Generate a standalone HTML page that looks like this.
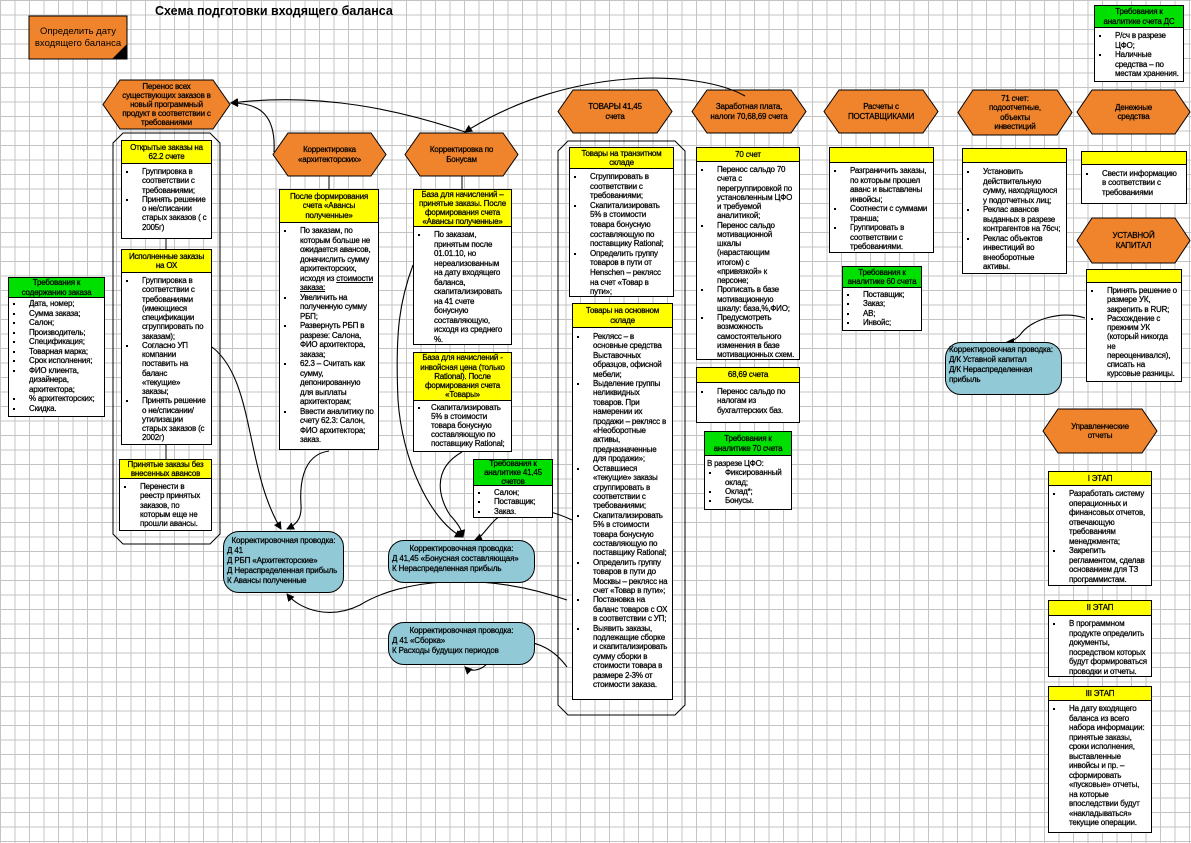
<!DOCTYPE html>
<html><head><meta charset="utf-8">
<style>
*{margin:0;padding:0;box-sizing:border-box}
body{width:1191px;height:843px;position:relative;overflow:hidden;background:#fff;
background-image:linear-gradient(to right,#c4c4c4 1px,transparent 1px),linear-gradient(to bottom,#c4c4c4 1px,transparent 1px);
background-size:14.5px 14.5px;background-position:0 0;
font-family:"Liberation Sans",Arial,sans-serif;color:#000}
.b{position:absolute;border:1px solid #000;background:#fff;font-size:8px;line-height:9.25px;letter-spacing:-0.2px;overflow:hidden;-webkit-text-stroke:0.25px #000}
.h{background:#ffff00;border-bottom:1px solid #000;text-align:center;display:flex;align-items:center;justify-content:center;line-height:9.2px;padding:0 4px}
.g{background:#00e000}
ul{list-style:none;padding:3px 4px 2px 0}
li{position:relative;padding-left:20px}
li:before{content:"";position:absolute;left:4px;top:4px;width:2px;height:2px;background:#000}
.t{position:absolute;display:flex;align-items:center;justify-content:center;text-align:center;font-size:8px;line-height:9.2px;letter-spacing:-0.2px;-webkit-text-stroke:0.25px #000}
.bl{position:absolute;background:#92c9d6;border:1px solid #000;border-radius:16px;font-size:8px;line-height:10px;letter-spacing:-0.15px;padding:4px 3px;-webkit-text-stroke:0.25px #000}
svg{position:absolute;left:0;top:0}
</style></head><body>
<svg width="1191" height="843">
<defs><marker id="a" markerWidth="8" markerHeight="8" refX="7" refY="4" orient="auto" markerUnits="userSpaceOnUse"><path d="M0,0 L8,4 L0,8 z" fill="#000"/></marker></defs>
<g fill="#f0842c" stroke="#000" stroke-width="1">
<polygon points="103,104.5 120,80 213,80 230,104.5 213,129 120,129"/>
<polygon points="273,154.5 288,133 371,133 386,154.5 371,176 288,176"/>
<polygon points="405,154.5 420,133 503,133 518,154.5 503,176 420,176"/>
<polygon points="558,111.5 573,90 657,90 672,111.5 657,133 573,133"/>
<polygon points="692,111.5 707,90 791,90 806,111.5 791,133 707,133"/>
<polygon points="824,111.5 839,90 923,90 938,111.5 923,133 839,133"/>
<polygon points="958,112.5 973,90 1057,90 1072,112.5 1057,135 973,135"/>
<polygon points="1077,112 1092,90 1175,90 1190,112 1175,134 1092,134"/>
<polygon points="1077,240.5 1092,218 1175,218 1190,240.5 1175,263 1092,263"/>
<polygon points="1043,431 1058,409 1142,409 1157,431 1142,453 1058,453"/>
<rect x="29" y="16" width="98" height="43"/>
</g>
<polygon points="112,59 127,44 127,59" fill="#000"/>
<g fill="none" stroke="#000" stroke-width="1">
<polygon points="123,133 210,133 220,143 220,534 210,544 123,544 113,534 113,143"/>
<polygon points="568,141 675,141 685,151 685,705 675,715 568,715 558,705 558,151"/>
<line x1="166" y1="239" x2="166" y2="249"/>
<line x1="166" y1="445" x2="166" y2="459"/>
<line x1="329" y1="176" x2="329" y2="189"/>
<line x1="462" y1="176" x2="462" y2="189"/>
</g>
<g fill="none" stroke="#000" stroke-width="1.1" marker-end="url(#a)">
<path d="M274,152 C276,115 260,103 231,103"/>
<path d="M465,132 C400,110 320,92 231,103"/>
<path d="M745,96 C700,70 570,65 465,132"/>
<path d="M212,347 C255,380 245,470 281,529"/>
<path d="M329,451 C300,455 300,490 301,505 C302,520 295,525 287,529"/>
<path d="M567,600 C480,570 400,580 360,605 C330,620 300,610 287,594"/>
<path d="M413,265 C400,300 395,330 398,400 C402,460 430,520 462,537"/>
<path d="M462,452 C430,470 440,500 450,515 C462,528 462,533 463,537"/>
<path d="M572,520 C540,505 510,505 495,520 C485,530 482,537 475,540"/>
<path d="M567,667 C540,630 500,640 490,660 C482,672 470,672 465,667"/>
<path d="M1085,318 C1060,310 1030,320 1020,335 C1015,340 1010,342 1007,342"/>
</g>
</svg>

<div style="position:absolute;left:155px;top:4px;font-size:12.5px;font-weight:bold">Схема подготовки входящего баланса</div>
<div class="t" style="left:29px;top:16px;width:98px;height:43px;font-size:9.5px;line-height:12px;letter-spacing:0;-webkit-text-stroke:0">Определить дату входящего баланса</div>

<div class="t" style="left:116px;top:80px;width:101px;height:49px;line-height:9px">Перенос всех существующих заказов в новый программный продукт в соответствии с требованиями</div>
<div class="t" style="left:288px;top:133px;width:83px;height:43px">Корректировка «архитекторских»</div>
<div class="t" style="left:420px;top:133px;width:83px;height:43px">Корректировка по Бонусам</div>
<div class="t" style="left:583px;top:90px;width:64px;height:43px">ТОВАРЫ 41,45 счета</div>
<div class="t" style="left:707px;top:90px;width:84px;height:43px">Заработная плата, налоги 70,68,69 счета</div>
<div class="t" style="left:839px;top:90px;width:84px;height:43px">Расчеты с ПОСТАВЩИКАМИ</div>
<div class="t" style="left:983px;top:90px;width:64px;height:45px">71 счет: подоотчетные, объекты инвестиций</div>
<div class="t" style="left:1102px;top:90px;width:63px;height:44px">Денежные средства</div>
<div class="t" style="left:1102px;top:218px;width:63px;height:45px">УСТАВНОЙ КАПИТАЛ</div>
<div class="t" style="left:1068px;top:409px;width:64px;height:44px">Управленческие отчеты</div>

<div class="b" style="left:121px;top:140px;width:91px;height:99px"><div class="h" style="height:23px">Открытые заказы на 62.2 счете</div><ul><li>Группировка в соответствии с требованиями;</li><li>Принять решение о не/списании старых заказов ( с 2005г)</li></ul></div>
<div class="b" style="left:121px;top:249px;width:91px;height:196px"><div class="h" style="height:23px">Исполненные заказы на ОХ</div><ul><li>Группировка в соответствии с требованиями (имеющиеся спецификации сгруппировать по заказам);</li><li>Согласно УП компании поставить на баланс «текущие» заказы;</li><li>Принять решение о не/списании/ утилизации старых заказов (с 2002г)</li></ul></div>
<div class="b" style="left:119px;top:459px;width:93px;height:72px"><div class="h" style="height:19px">Принятые заказы без внесенных авансов</div><ul><li>Перенести в реестр принятых заказов, по которым еще не прошли авансы.</li></ul></div>
<div class="b" style="left:8px;top:277px;width:97px;height:140px"><div class="h g" style="height:20px">Требования к содержанию заказа</div><ul style="padding-top:1px;line-height:9.5px"><li>Дата, номер;</li><li>Сумма заказа;</li><li>Салон;</li><li>Производитель;</li><li>Спецификация;</li><li>Товарная марка;</li><li>Срок исполнения;</li><li>ФИО клиента, дизайнера, архитектора;</li><li>% архитекторских;</li><li>Скидка.</li></ul></div>

<div class="b" style="left:279px;top:189px;width:100px;height:261px"><div class="h" style="height:33px">После формирования счета «Авансы полученные»</div><ul style="line-height:9.5px"><li>По заказам, по которым больше не ожидается авансов, доначислить сумму архитекторских, исходя из <u>стоимости заказа:</u></li><li>Увеличить на полученную сумму РБП;</li><li>Развернуть РБП в разрезе: Салона, ФИО архитектора, заказа;</li><li>62.3 – Считать как сумму, депонированную для выплаты архитекторам;</li><li>Ввести аналитику по счету 62.3: Салон, ФИО архитектора; заказ.</li></ul></div>
<div class="b" style="left:413px;top:189px;width:99px;height:156px"><div class="h" style="height:37px">База для начислений – принятые заказы. После формирования счета «Авансы полученные»</div><ul style="line-height:9.5px"><li>По заказам, принятым после 01.01.10, но нереализованным на дату входящего баланса, скапитализировать на 41 счете бонусную составляющую, исходя из среднего %.</li></ul></div>
<div class="b" style="left:413px;top:352px;width:99px;height:100px"><div class="h" style="height:48px">База для начислений - инвойсная цена (только Rational). После формирования счета «Товары»</div><ul style="line-height:9px;padding:2px 1px 0 0"><li style="padding-left:17px">Скапитализировать 5% в стоимости товара бонусную составляющую по поставщику Rational;</li></ul></div>
<div class="b" style="left:473px;top:459px;width:80px;height:59px"><div class="h g" style="height:26px">Требования к аналитике 41,45 счетов</div><ul style="padding-top:2px"><li>Салон;</li><li>Поставщик;</li><li>Заказ.</li></ul></div>

<div class="bl" style="left:223px;top:531px;width:121px;height:62px"><div style="text-align:center">Корректировочная проводка:</div>Д 41<br>Д РБП «Архитекторские»<br>Д Нераспределенная прибыль<br>К Авансы полученные</div>
<div class="bl" style="left:388px;top:540px;width:147px;height:43px;padding-top:3px"><div style="text-align:center">Корректировочная проводка:</div>Д 41,45 «Бонусная составляющая»<br>К Нераспределенная прибыль</div>
<div class="bl" style="left:388px;top:622px;width:147px;height:43px;padding-top:3px"><div style="text-align:center">Корректировочная проводка:</div>Д 41 «Сборка»<br>К Расходы будущих периодов</div>
<div class="bl" style="left:945px;top:342px;width:117px;height:53px;padding:2px 3px"><div>Корректировочная проводка:</div>Д/К Уставной капитал<br>Д/К Нераспределенная прибыль</div>

<div class="b" style="left:569px;top:147px;width:105px;height:150px"><div class="h" style="height:21px">Товары на транзитном складе</div><ul style="line-height:9.6px"><li>Сгруппировать в соответствии с требованиями;</li><li>Скапитализировать 5% в стоимости товара бонусную составляющую по поставщику Rational;</li><li>Определить группу товаров в пути от Henschen – реклясс на счет «Товар в пути»;</li></ul></div>
<div class="b" style="left:572px;top:303px;width:101px;height:397px"><div class="h" style="height:24px">Товары на основном складе</div><ul style="padding-top:4px;line-height:9.4px"><li>Реклясс – в основные средства Выставочных образцов, офисной мебели;</li><li>Выделение группы неликвидных товаров. При намерении их продажи – реклясс в «Необоротные активы, предназначенные для продажи»;</li><li>Оставшиеся «текущие» заказы сгруппировать в соответствии с требованиями;</li><li>Скапитализировать 5% в стоимости товара бонусную составляющую по поставщику Rational;</li><li>Определить группу товаров в пути до Москвы – реклясс на счет «Товар в пути»;</li><li>Постановка на баланс товаров с ОХ в соответствии с УП;</li><li>Выявить заказы, подлежащие сборке и скапитализировать сумму сборки в стоимости товара в размере 2-3% от стоимости заказа.</li></ul></div>

<div class="b" style="left:696px;top:147px;width:104px;height:213px"><div class="h" style="height:14px">70 счет</div><ul><li>Перенос сальдо 70 счета с перегруппировкой по установленным ЦФО и требуемой аналитикой;</li><li>Перенос сальдо мотивационной шкалы (нарастающим итогом) с «привязкой» к персоне;</li><li>Прописать в базе мотивационную шкалу: база,%,ФИО;</li><li>Предусмотреть возможность самостоятельного изменения в базе мотивационных схем.</li></ul></div>
<div class="b" style="left:696px;top:367px;width:104px;height:56px"><div class="h" style="height:15px">68,69 счета</div><ul style="padding-top:4px"><li>Перенос сальдо по налогам из бухгалтерских баз.</li></ul></div>
<div class="b" style="left:704px;top:431px;width:88px;height:79px"><div class="h g" style="height:24px">Требования к аналитике 70 счета</div><div style="padding:3px 2px 0 2px">В разрезе ЦФО:</div><ul style="padding-top:0"><li>Фиксированный оклад;</li><li>Оклад*;</li><li>Бонусы.</li></ul></div>

<div class="b" style="left:829px;top:147px;width:105px;height:106px"><div class="h" style="height:15px"></div><ul style="line-height:9.5px"><li>Разграничить заказы, по которым прошел аванс и выставлены инвойсы;</li><li>Соотнести с суммами транша;</li><li>Группировать в соответствии с требованиями.</li></ul></div>
<div class="b" style="left:842px;top:266px;width:80px;height:65px"><div class="h g" style="height:21px">Требования к аналитике 60 счета</div><ul style="padding-top:2px"><li>Поставщик;</li><li>Заказ;</li><li>АВ;</li><li>Инвойс;</li></ul></div>

<div class="b" style="left:962px;top:148px;width:105px;height:126px"><div class="h" style="height:14px"></div><ul style="padding-top:4px;line-height:9.5px"><li>Установить действительную сумму, находящуюся у подотчетных лиц;</li><li>Реклас авансов выданных в разрезе контрагентов на 76сч;</li><li>Реклас объектов инвестиций во внеоборотные активы.</li></ul></div>

<div class="b" style="left:1094px;top:5px;width:90px;height:77px"><div class="h g" style="height:22px">Требования к аналитике счета ДС</div><ul style="line-height:9.5px"><li>Р/сч в разрезе ЦФО;</li><li>Наличные средства – по местам хранения.</li></ul></div>
<div class="b" style="left:1081px;top:151px;width:106px;height:53px"><div class="h" style="height:13px"></div><ul style="padding-top:4px"><li>Свести информацию в соответствии с требованиями</li></ul></div>
<div class="b" style="left:1086px;top:269px;width:96px;height:113px"><div class="h" style="height:13px"></div><ul><li>Принять решение о размере УК, закрепить в RUR;</li><li>Расхождение с прежним УК (который никогда не переоценивался), списать на курсовые разницы.</li></ul></div>

<div class="b" style="left:1048px;top:471px;width:104px;height:115px"><div class="h" style="height:14px">I ЭТАП</div><ul style="line-height:9.5px"><li>Разработать систему операционных и финансовых отчетов, отвечающую требованиям менеджмента;</li><li>Закрепить регламентом, сделав основанием для ТЗ программистам.</li></ul></div>
<div class="b" style="left:1048px;top:600px;width:104px;height:77px"><div class="h" style="height:15px">II ЭТАП</div><ul style="line-height:9.5px"><li>В программном продукте определить документы, посредством которых будут формироваться проводки и отчеты.</li></ul></div>
<div class="b" style="left:1048px;top:686px;width:104px;height:147px"><div class="h" style="height:14px">III ЭТАП</div><ul style="line-height:9.5px"><li>На дату входящего баланса из всего набора информации: принятые заказы, сроки исполнения, выставленные инвойсы и пр. – сформировать «пусковые» отчеты, на которые впоследствии будут «накладываться» текущие операции.</li></ul></div>
</body></html>
